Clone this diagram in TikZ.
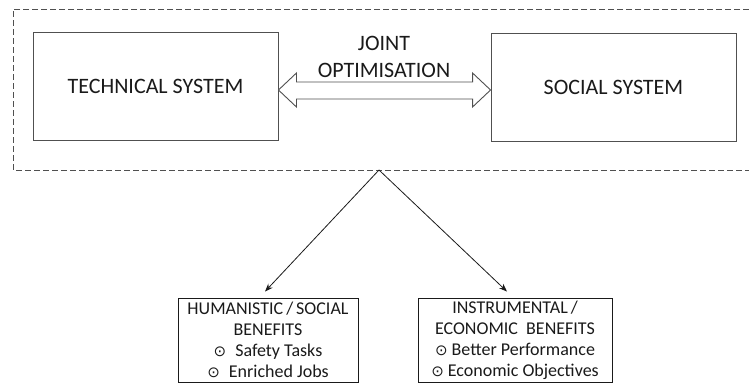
\documentclass[tikz,border=0pt]{standalone}
\usepackage{fontspec}
\setmainfont{Carlito}
\newfontfamily\dejavu{DejaVu Sans}
\usetikzlibrary{arrows.meta,calc}
\definecolor{edge}{HTML}{505050}
\definecolor{ink}{HTML}{1A1A1A}
\newcommand\bul{{\dejavu\fontsize{15}{15}\selectfont ⊙}}
\tikzset{
  sysbox/.style={draw=edge, line width=0.9pt, minimum width=245pt, minimum height=108pt, inner sep=0pt, text=ink, font=\fontsize{22}{26}\selectfont},
  benbox/.style={draw=ink, line width=0.9pt, minimum height=84pt, inner sep=0pt, align=center, text=ink, font=\fontsize{18}{21}\selectfont},
  dashbox/.style={draw=edge, line width=0.8pt, dash pattern=on 6pt off 3pt},
  blockarrow/.style={draw=edge, fill=white, line width=0.9pt, line join=miter},
  link/.style={draw=ink, line width=0.8pt, -{Stealth[length=8pt,width=6pt]}},
  lbl/.style={text=ink, align=center, font=\fontsize{22}{27}\selectfont, inner sep=0pt}
}
\begin{document}
\begin{tikzpicture}[x=1pt,y=-1pt]
\useasboundingbox (0,0) rectangle (749,383);
% dashed container (open to the right edge)
\draw[dashbox] (749,9) -- (13,9) -- (13,170) -- (749,170);
\coordinate (apex) at (379,170);
% system boxes
\node[sysbox] (tech) at (155.5,86) {TECHNICAL SYSTEM};
\node[sysbox] (soc) at (613.5,87) {SOCIAL SYSTEM};
% joint optimisation label
\node[lbl] (joint) at (384,57) {JOINT\\OPTIMISATION};
% block double arrow between the boxes
\coordinate (aL) at (tech.east |- 0,90);
\coordinate (aR) at (soc.west |- 0,90);
\draw[blockarrow] (aL) -- ++(18,-17) -- ++(0,9) -- ($(aR)+(-18,-8)$) -- ++(0,-9)
  -- (aR) -- ++(-18,17) -- ++(0,-8) -- ($(aL)+(18,9)$) -- ++(0,8) -- cycle;
% benefit boxes
\node[benbox, minimum width=180pt] (hum) at (268,340)
  {HUMANISTIC\,/\,SOCIAL\\BENEFITS\\\bul\enspace Safety Tasks\\\bul\enspace Enriched Jobs};
\node[benbox, minimum width=194pt] (ins) at (515,340)
  {INSTRUMENTAL\,/\\ECONOMIC\ \ BENEFITS\\\bul\ Better Performance\\\bul\ Economic Objectives};
% connectors
\draw[link] (apex) -- ($(hum.north)+(-3,-6)$);
\draw[link] (apex) -- ($(ins.north)+(-8,-6)$);
\end{tikzpicture}
\end{document}
